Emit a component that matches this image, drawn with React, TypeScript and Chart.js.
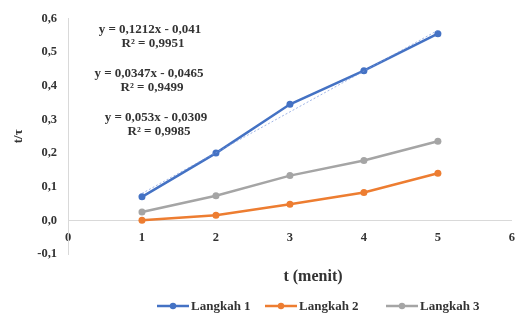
import React, { useEffect, useRef } from "react";
import { Chart, registerables } from "chart.js";

Chart.register(...registerables);

const times = [1, 2, 3, 4, 5];
const langkah1 = [0.07, 0.2, 0.345, 0.445, 0.555];
const langkah2 = [0.0, 0.015, 0.048, 0.083, 0.14];
const langkah3 = [0.025, 0.073, 0.133, 0.178, 0.235];
const trend1X = [1, 5];
const trend1Y = [0.08, 0.565];
const seriesNames = ["Langkah 1", "Langkah 2", "Langkah 3"];
const seriesColors = ["#4472C4", "#ED7D31", "#A5A5A5"];
const equations = [
  ["y = 0,1212x - 0,041", "R² = 0,9951"],
  ["y = 0,0347x - 0,0465", "R² = 0,9499"],
  ["y = 0,053x - 0,0309", "R² = 0,9985"],
];
const xTitle = "t (menit)";
const yTitle = "t/τ";

const SERIF = "'Liberation Serif', 'DejaVu Serif', serif";

const extrasPlugin = {
  id: "extras",
  afterDraw(chart: any) {
    const ctx = chart.ctx;
    ctx.save();
    ctx.fillStyle = "#333333";
    ctx.font = `bold 13px ${SERIF}`;
    ctx.textAlign = "center";
    ctx.textBaseline = "middle";
    const eqY = [30, 74, 118];
    const eqX = [150, 149, 156];
    equations.forEach((pair, i) => {
      ctx.fillText(pair[0], eqX[i], eqY[i]);
      ctx.fillText(pair[1], eqX[i] + 3, eqY[i] + 14);
    });
    ctx.font = `bold 16px ${SERIF}`;
    ctx.fillText(xTitle, 313, 277);
    ctx.font = `bold 13px ${SERIF}`;
    ctx.textAlign = "left";
    const lx = [157, 265, 386];
    seriesNames.forEach((name, i) => {
      const x = lx[i];
      const y = 306;
      ctx.strokeStyle = seriesColors[i];
      ctx.lineWidth = 2.5;
      ctx.beginPath();
      ctx.moveTo(x, y);
      ctx.lineTo(x + 32, y);
      ctx.stroke();
      ctx.fillStyle = seriesColors[i];
      ctx.beginPath();
      ctx.arc(x + 16, y, 3.2, 0, Math.PI * 2);
      ctx.fill();
      ctx.fillStyle = "#333333";
      ctx.fillText(name, x + 34, y + 1);
    });
    ctx.restore();
  },
};

export default function App() {
  const ref = useRef<HTMLCanvasElement>(null);
  useEffect(() => {
    document.body.style.margin = "0";
    const mk = (ys: number[]) => times.map((t, i) => ({ x: t, y: ys[i] }));
    const chart = new Chart(ref.current!, {
      type: "line",
      data: {
        datasets: [
          {
            label: "trend1",
            data: trend1X.map((t, i) => ({ x: t, y: trend1Y[i] })),
            borderColor: "rgba(120,150,220,0.7)",
            borderWidth: 1,
            borderDash: [2, 2],
            pointRadius: 0,
          },
          ...[langkah1, langkah2, langkah3].map((d, i) => ({
            label: seriesNames[i],
            data: mk(d),
            borderColor: seriesColors[i],
            backgroundColor: seriesColors[i],
            borderWidth: 2.5,
            pointRadius: 3.5,
            pointBorderWidth: 0,
          })),
        ],
      },
      options: {
        responsive: false,
        animation: false,
        layout: { padding: { left: 0, top: 16, right: 7, bottom: 66 } },
        plugins: { legend: { display: false }, tooltip: { enabled: false } },
        scales: {
          x: {
            type: "linear",
            min: 0,
            max: 6,
            position: { y: 0 } as any,
            grid: { display: false, drawTicks: false },
            border: { color: "#d9d9d9", width: 1 },
            ticks: {
              stepSize: 1,
              padding: 10,
              color: "#333333",
              font: { family: SERIF, size: 12.5, weight: "bold" },
            },
          },
          y: {
            min: -0.1,
            max: 0.6,
            afterFit: (s: any) => {
              s.width = 68;
            },
            grid: { display: false, drawTicks: false },
            border: { color: "#d9d9d9", width: 1 },
            title: {
              display: true,
              text: yTitle,
              color: "#333333",
              font: { family: SERIF, size: 13, weight: "bold" },
              padding: { top: 11, bottom: 0 },
            },
            ticks: {
              stepSize: 0.1,
              padding: 11,
              color: "#333333",
              font: { family: SERIF, size: 12.5, weight: "bold" },
              callback: (v: any) => {
                const n = Math.round(Number(v) * 10) / 10;
                return (n === 0 ? 0 : n).toFixed(1).replace(".", ",");
              },
            },
          },
        },
      },
      plugins: [extrasPlugin],
    });
    return () => chart.destroy();
  }, []);
  return (
    <div style={{ width: 525, height: 320 }}>
      <canvas ref={ref} width={525} height={320} />
    </div>
  );
}
